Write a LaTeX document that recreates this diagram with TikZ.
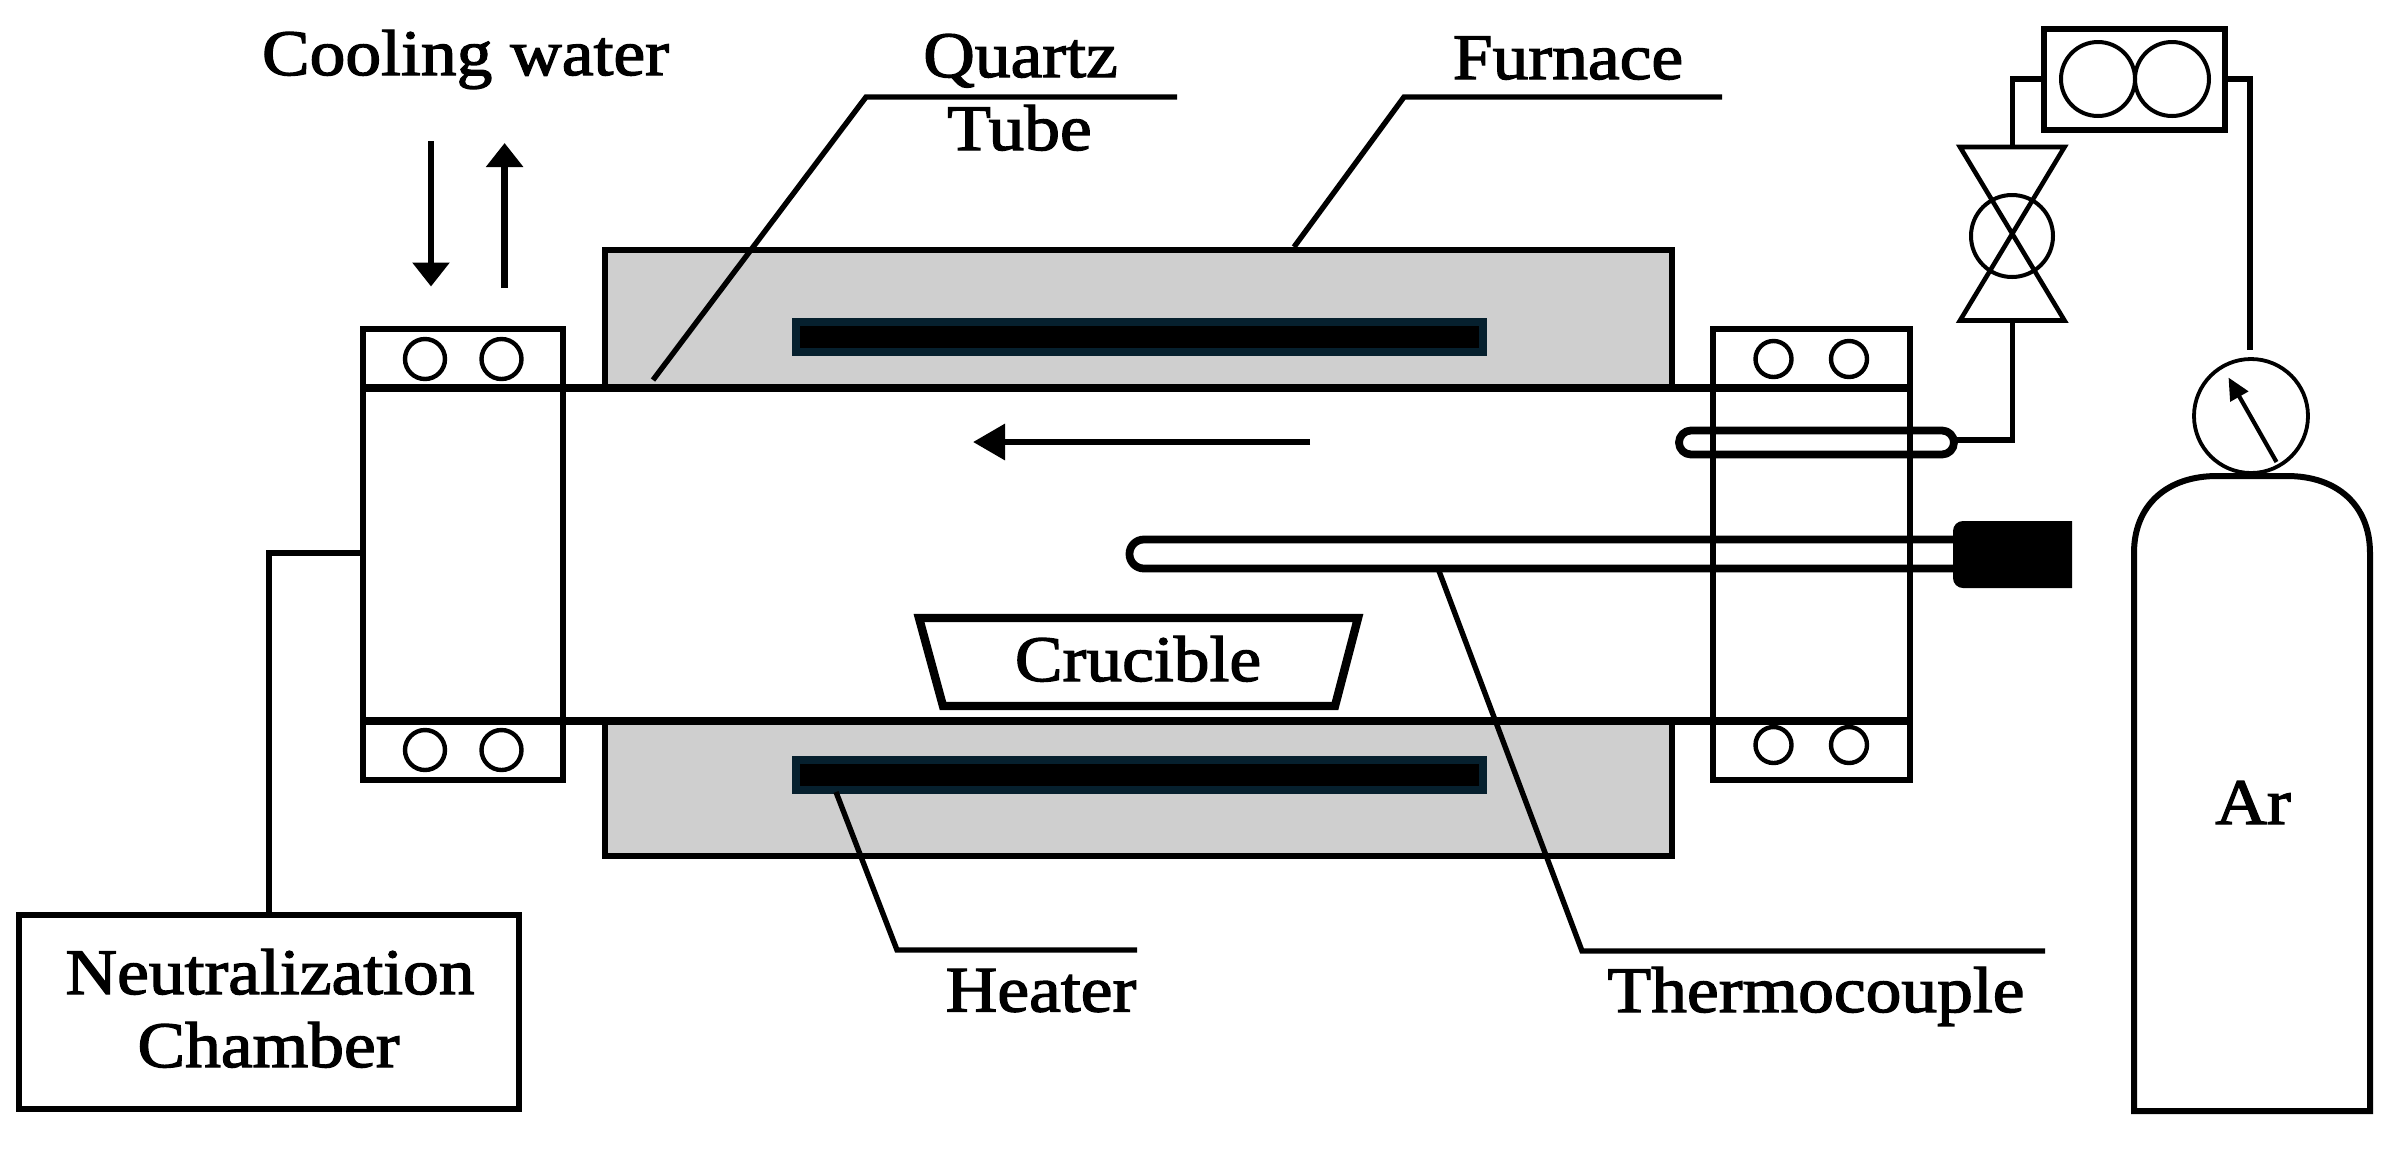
\documentclass[tikz,border=0pt]{standalone}
\usepackage{fontspec}
\usetikzlibrary{arrows.meta,calc}
\newfontfamily\labelfont[FakeStretch=1.1,FakeBold=2]{Liberation Serif}
\definecolor{furnacegray}{HTML}{CFCFCF}
\definecolor{heaterblue}{HTML}{06202E}
\tikzset{
  lab/.style={anchor=base,inner sep=0pt,outer sep=0pt,font=\labelfont\fontsize{32.5}{36}\selectfont,text=black},
  ln/.style={line width=2.7pt,draw=black,line cap=butt,line join=miter},
  thk/.style={line width=3.6pt,draw=black,line join=round},
  thin/.style={line width=2.1pt,draw=black},
  boxn/.style={rectangle,draw=black,line width=3pt,inner sep=0pt,outer sep=0pt},
  ring/.style={circle,draw=black,line width=2.2pt,inner sep=0pt,outer sep=0pt,minimum size=20pt},
  flow/.style={line width=3.2pt,draw=black,-{Triangle[length=12pt,width=18pt]}},
}
\begin{document}
\begin{tikzpicture}[x=0.5pt,y=-0.5pt]
\useasboundingbox (0,0) rectangle (2390,1153);
\fill[white] (0,0) rectangle (2390,1153);
% furnace
\draw[ln,line width=3pt,fill=furnacegray] (605,388) -- (605,250) -- (1672,250) -- (1672,388);
\draw[ln,line width=3pt,fill=furnacegray] (605,721) -- (605,856) -- (1672,856) -- (1672,721);
% heaters
\node[rectangle,fill=black,draw=heaterblue,line width=4pt,minimum width=343.5pt,minimum height=15pt,inner sep=0pt,outer sep=0pt] (heattop) at (1139.5,337) {};
\node[rectangle,fill=black,draw=heaterblue,line width=4pt,minimum width=343.5pt,minimum height=15pt,inner sep=0pt,outer sep=0pt] (heatbot) at (1139.5,775) {};
% tube
\coordinate (tl) at (361,388); \coordinate (tr) at (1912,388);
\coordinate (bl) at (361,721); \coordinate (br) at (1912,721);
\draw[thk] (tl) -- (tr);
\draw[thk] (bl) -- (br);
% flanges
\node[boxn,line width=2.8pt,minimum width=100pt,minimum height=225.5pt] (fll) at (463,554.5) {};
\node[boxn,line width=2.8pt,minimum width=98.5pt,minimum height=225.5pt] (flr) at (1811.5,554.5) {};
\node[ring] (c1) at (425,359) {};
\node[ring] (c2) at (501.5,359) {};
\node[ring] (c3) at (425,750) {};
\node[ring] (c4) at (501.5,750) {};
\node[ring,minimum size=18pt] (c5) at (1773.5,359) {};
\node[ring,minimum size=18pt] (c6) at (1849,359) {};
\node[ring,minimum size=18pt] (c7) at (1773.5,745) {};
\node[ring,minimum size=18pt] (c8) at (1849,745) {};
% cooling water arrows
\coordinate (wa) at (431,141); \coordinate (wb) at (431,286.5);
\coordinate (wc) at (504.6,288); \coordinate (wd) at (504.6,143);
\draw[flow] (wa) -- (wb);
\draw[flow] (wc) -- (wd);
% gas flow arrow
\coordinate (ga) at (1310,442); \coordinate (gb) at (973,442);
\draw[flow,-{Triangle[length=16pt,width=17.5pt]}] (ga) -- (gb);
% gas inlet tube
\draw[thk,line width=3.9pt,rounded corners=6pt] (1679,430.5) rectangle (1954,454.5);
% thermocouple
\draw[thk,line width=3.9pt,rounded corners=7.2pt] (1956,539.5) -- (1129.5,539.5) -- (1129.5,568.5) -- (1956,568.5);
\fill[black] (2072,521) [rounded corners=5pt] -- (1953,521) -- (1953,588) [sharp corners] -- (2072,588) -- cycle;
% crucible
\draw[line width=4.2pt,draw=black,fill=white,line join=miter] (919,618) -- (1358,618) -- (1335,706) -- (943,706) -- cycle;
% neutralization chamber
\node[boxn,minimum width=250pt,minimum height=97.25pt] (neut) at (269,1011.75) {};
\coordinate (nc) at (269,553);
\draw[ln] (neut.north) -- (nc) -- (363,553);
% pump
\node[boxn,minimum width=90.5pt,minimum height=50.5pt] (pump) at (2134.5,79) {};
\node[ring,line width=2pt,minimum size=37pt] (pa) at (2098,79) {};
\node[ring,line width=2pt,minimum size=37pt] (pb) at (2172,79) {};
% valve
\coordinate (vtl) at (1960,147); \coordinate (vtr) at (2064.5,147);
\coordinate (vbl) at (1960,320.5); \coordinate (vbr) at (2064.5,320.5);
\coordinate (vt) at (2012.5,147); \coordinate (vb) at (2012.5,320.5);
\draw[ln,line width=2.3pt,line join=miter] (vtl) -- (vtr) -- (vbl) -- (vbr) -- cycle;
\node[ring,line width=2pt,minimum size=41pt] (vc) at (2012,236) {};
\draw[ln] (pump.west) -| (vt);
\coordinate (inl) at (1957,440);
\draw[ln] (vb) |- (inl);
% cylinder and gauge
\draw[line width=3pt,draw=black] (2134,1111) -- (2134,553) .. controls (2134,505) and (2167,476) .. (2217,476) -- (2287,476) .. controls (2337,476) and (2370,505) .. (2370,553) -- (2370,1111) -- cycle;
\node[ring,line width=1.9pt,minimum size=57pt] (gauge) at (2251,416) {};
\coordinate (ga1) at (2276.5,462); \coordinate (ga2) at (2228.5,377.5);
\draw[thin,-{Triangle[length=11pt,width=10pt]}] (ga1) -- (ga2);
\coordinate (gp) at (2250,350);
\draw[ln] (pump.east) -| (gp);
% leaders
\coordinate (q1) at (653,380); \coordinate (q2) at (866,97); \coordinate (q3) at (1177,97);
\draw[ln] (q1) -- (q2) -- (q3);
\coordinate (f1) at (1294,247); \coordinate (f2) at (1404,97); \coordinate (f3) at (1722,97);
\draw[ln] (f1) -- (f2) -- (f3);
\coordinate (h1) at (836,792); \coordinate (h2) at (897,950); \coordinate (h3) at (1137,950);
\draw[ln] (h1) -- (h2) -- (h3);
\coordinate (t1) at (1439,571); \coordinate (t2) at (1582,951); \coordinate (t3) at (2045,951);
\draw[ln] (t1) -- (t2) -- (t3);
% labels
\node[lab] (lcool) at (465.5,75) {Cooling water};
\node[lab] (lquartz) at (1020.5,77) {Quartz};
\node[lab] (ltube) at (1019.5,150) {Tube};
\node[lab] (lfurn) at (1568,79) {Furnace};
\node[lab] (lcruc) at (1138,681) {Crucible};
\node[lab] (lheat) at (1041,1011.5) {Heater};
\node[lab] (lthermo) at (1816,1012) {Thermocouple};
\node[lab] (lneut) at (270,994) {Neutralization};
\node[lab] (lchamb) at (268.5,1067) {Chamber};
\node[lab] (lar) at (2253,824) {Ar};
\end{tikzpicture}
\end{document}
